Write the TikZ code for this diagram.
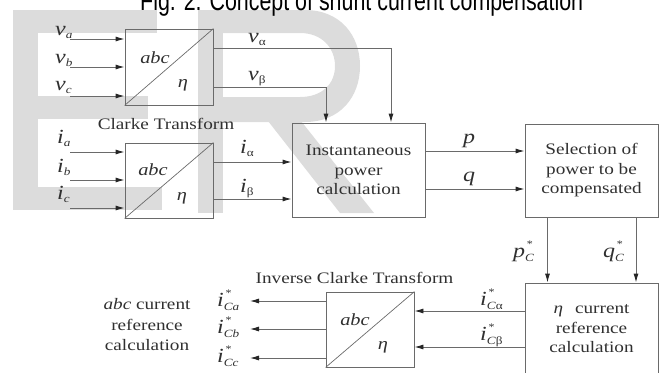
\documentclass[tikz,border=0pt]{standalone}
\usepackage{fontspec}
\usepackage{graphicx}
\setmainfont[FakeStretch=1.2]{Liberation Serif}
\newfontfamily\titlefont{Liberation Sans}
\usetikzlibrary{arrows.meta}
\definecolor{wm}{HTML}{DCDCDC}
\definecolor{ln}{HTML}{6A6A6A}
\definecolor{tx}{HTML}{303030}
\newcommand\vr[2]{\textit{#1}\raisebox{-0.35ex}{\fontsize{11}{11}\selectfont #2}}
\newcommand\vs[2]{\textit{#1}\rlap{\raisebox{1.0ex}{\fontsize{10}{10}\selectfont\,*}}\raisebox{-0.45ex}{\fontsize{11}{11}\selectfont #2}}
\tikzset{
  blk/.style={draw=ln, line width=0.9pt, inner sep=0, text=tx, align=center,
    font=\fontsize{16}{19.5}\selectfont},
  conn/.style={draw=ln, line width=0.9pt, -{Latex[length=9pt,width=5pt,color=black!85]}},
  lab/.style={text=tx, inner sep=0, anchor=base west, font=\fontsize{20}{20}\selectfont},
  inl/.style={text=tx, inner sep=0, font=\fontsize{17}{17}\selectfont\itshape},
  captext/.style={text=tx, inner sep=0, align=center, font=\fontsize{16}{20.5}\selectfont},
}
\begin{document}
\begin{tikzpicture}[x=1pt,y=-1pt]
\useasboundingbox (0,0) rectangle (663,372);
% watermark
\fill[wm] (13,10) rectangle (38,210);
\fill[wm] (13,10) rectangle (157,33);
\fill[wm] (13,96) rectangle (148,119);
\fill[wm] (13,187) rectangle (162,210);
\fill[wm] (198,10) rectangle (223,213);
\fill[wm,even odd rule] (222,10) -- (305,10) .. controls (340,10) and (360,35) .. (360,66)
  .. controls (360,97) and (340,122) .. (305,122) -- (222,122) -- cycle
  (222,33) -- (300,33) .. controls (322,33) and (335,48) .. (335,66)
  .. controls (335,84) and (322,97) .. (300,97) -- (222,97) -- cycle;
\fill[wm] (268,121) -- (301,121) -- (374,213) -- (340,213) -- cycle;
% title
\node[anchor=base west, inner sep=0] (title) at (140,10)
  {\resizebox{443pt}{\height}{\titlefont\fontsize{28}{28}\selectfont Fig. 2. Concept of shunt current compensation}};
% blocks
\node[blk, minimum width=88pt, minimum height=76pt] (c1) at (169,67) {};
\node[blk, minimum width=88pt, minimum height=75pt] (c2) at (169,180.5) {};
\node[blk, minimum width=133pt, minimum height=94pt] (ip) at (358.5,170) {Instantaneous\\power\\calculation};
\node[blk, minimum width=133pt, minimum height=93pt] (sel) at (591.5,170.5) {Selection of\\power to be\\compensated};
\node[blk, minimum width=133pt, minimum height=92pt] (cur) at (591.5,329) {\textit{η}\hspace{12pt}current\\reference\\calculation};
\node[blk, minimum width=88pt, minimum height=75pt] (inv) at (370,329.5) {};
\draw[ln, line width=0.7pt] (c1.south west) -- (c1.north east);
\draw[ln, line width=0.7pt] (c2.south west) -- (c2.north east);
\draw[ln, line width=0.7pt] (inv.south west) -- (inv.north east);
\node[inl] (abc1) at (155,58) {abc};
\node[inl] (eta1) at (183,85) {η};
\node[inl] (abc2) at (153,170) {abc};
\node[inl] (eta2) at (182,198) {η};
\node[inl] (abc3) at (355,320) {abc};
\node[inl] (eta3) at (383,347) {η};
\node[captext] (ct) at (166,124) {Clarke Transform};
\node[captext] (ict) at (354.5,278) {Inverse Clarke Transform};
\node[captext] (abccur) at (147,325) {\textit{abc} current\\reference\\calculation};
% input labels
\node[lab] (lva) at (55,35) {\vr{v}{\textit{a}}};
\node[lab] (lvb) at (55,63) {\vr{v}{\textit{b}}};
\node[lab] (lvc) at (55,90) {\vr{v}{\textit{c}}};
\node[lab] (lia) at (57,143) {\vr{i}{\textit{a}}};
\node[lab] (lib) at (57,172) {\vr{i}{\textit{b}}};
\node[lab] (lic) at (57,199) {\vr{i}{\textit{c}}};
\node[lab] (lval) at (248,42) {\vr{v}{α}};
\node[lab] (lvbe) at (248,80) {\vr{v}{β}};
\node[lab] (lial) at (240,153) {\vr{i}{α}};
\node[lab] (libe) at (240,192) {\vr{i}{β}};
\node[lab] (lp) at (463,143) {\textit{p}};
\node[lab] (lq) at (463,181) {\textit{q}};
\node[lab] (lpc) at (513,257) {\vs{p}{\textit{C}}};
\node[lab] (lqc) at (603,257) {\vs{q}{\textit{C}}};
\node[lab] (lica) at (480,305) {\vs{i}{\textit{C}α}};
\node[lab] (licb) at (480,340) {\vs{i}{\textit{C}β}};
\node[lab] (loa) at (217,306) {\vs{i}{\textit{Ca}}};
\node[lab] (lob) at (217,333) {\vs{i}{\textit{Cb}}};
\node[lab] (loc) at (217,362) {\vs{i}{\textit{Cc}}};
% coordinates
\coordinate (sva) at (70,39);
\coordinate (svb) at (70,67);
\coordinate (svc) at (70,96);
\coordinate (sia) at (70,152);
\coordinate (sib) at (70,180);
\coordinate (sic) at (70,208);
\coordinate (ea) at (250,301);
\coordinate (eb) at (250,329);
\coordinate (ec) at (250,358);
% connectors
\draw[conn] (sva) -- (sva -| c1.west);
\draw[conn] (svb) -- (svb -| c1.west);
\draw[conn] (svc) -- (svc -| c1.west);
\draw[conn] (sia) -- (sia -| c2.west);
\draw[conn] (sib) -- (sib -| c2.west);
\draw[conn] (sic) -- (sic -| c2.west);
\draw[conn] (c1.east |- 0,48) -| ([xshift=32.5pt]ip.north);
\draw[conn] (c1.east |- 0,87) -| ([xshift=-32.5pt]ip.north);
\draw[conn] (c2.east |- 0,162) -- (ip.west |- 0,162);
\draw[conn] (c2.east |- 0,199) -- (ip.west |- 0,199);
\draw[conn] (ip.east |- 0,151) -- (sel.west |- 0,151);
\draw[conn] (ip.east |- 0,189) -- (sel.west |- 0,189);
\draw[conn] ([xshift=-44pt]sel.south) -- ([xshift=-44pt]cur.north);
\draw[conn] ([xshift=44.5pt]sel.south) -- ([xshift=44.5pt]cur.north);
\draw[conn] (cur.west |- 0,311) -- (inv.east |- 0,311);
\draw[conn] (cur.west |- 0,347) -- (inv.east |- 0,347);
\draw[conn] (inv.west |- ea) -- (ea);
\draw[conn] (inv.west |- eb) -- (eb);
\draw[conn] (inv.west |- ec) -- (ec);
\end{tikzpicture}
\end{document}
